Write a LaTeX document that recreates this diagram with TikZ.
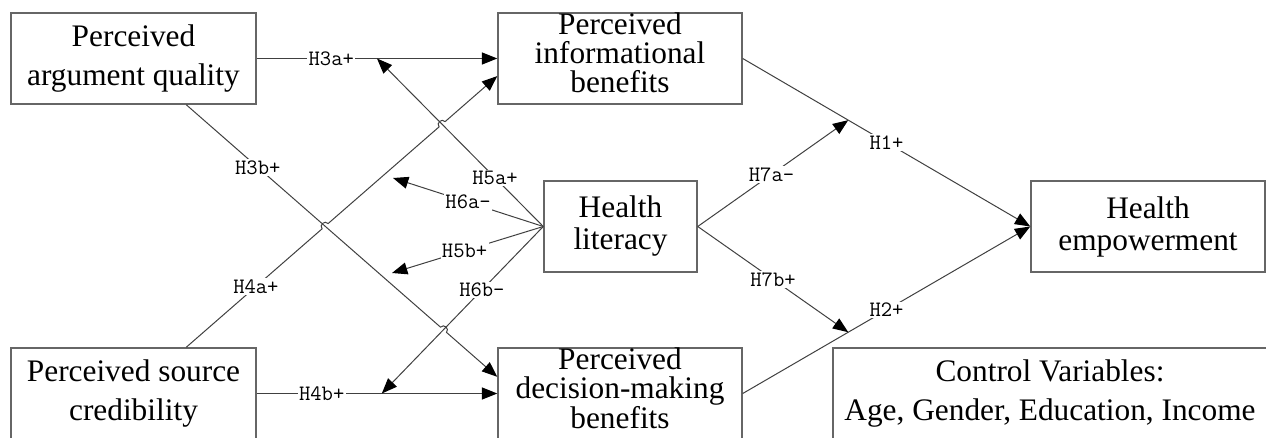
\documentclass[tikz,border=0pt]{standalone}
\usepackage{fontspec}
\setmainfont{Liberation Serif}
\usetikzlibrary{arrows.meta,calc}

\tikzset{
  box/.style={draw=black!60, line width=1.1pt, fill=white, inner sep=0pt,
    minimum height=68.25pt, align=center, font=\fontsize{23.5}{29}\selectfont},
  tightbox/.style={box, font=\fontsize{23.5}{21.5}\selectfont},
  midbox/.style={box, font=\fontsize{23.5}{24}\selectfont},
  link/.style={draw=black!75, line width=0.75pt},
  arr/.style={link, -{Triangle[length=11.5pt,width=9pt,color=black]}},
  hopover/.style={bend left=90, looseness=1.6},
  hyp/.style={fill=white, inner sep=1pt, font=\ttfamily\fontsize{16.5}{17}\selectfont},
}

\begin{document}
\begin{tikzpicture}[x=0.75pt,y=-0.75pt]
  \clip[use as bounding box] (0,0) rectangle (1266,438);

  % constructs
  \node[box, minimum width=183.75pt] (aq) at (133.5,58.5) {Perceived\\argument quality};
  \node[box, minimum width=183.75pt] (sc) at (133.5,393.5) {Perceived source\\credibility};
  \node[tightbox, minimum width=183pt] (ib) at (620,58.5)
    {Perceived\\informational\\benefits\rule[-9pt]{0pt}{9pt}};
  \node[tightbox, minimum width=183pt] (db) at (620,393.5)
    {Perceived\\decision-making\\benefits\rule[-8pt]{0pt}{8pt}};
  \node[midbox, minimum width=114.75pt] (hl) at (620.5,226.5) {Health\\literacy};
  \node[midbox, minimum width=175.5pt] (he) at (1148,226.5) {Health\\empowerment};
  \node[box, minimum width=325.5pt] (cv) at (1050,393.5)
    {Control Variables:\\Age, Gender, Education, Income};

  % end points
  \coordinate (p3b) at ($(aq.south west)!0.714!(aq.south east)$);
  \coordinate (q3b) at ($(db.north west)!0.32!(db.south west)$);
  \coordinate (p4a) at ($(sc.north west)!0.714!(sc.north east)$);
  \coordinate (q4a) at ($(ib.north west)!0.69!(ib.south west)$);
  \coordinate (t5a) at ($(aq.east)!0.5!(ib.west)$);
  \coordinate (t6a) at (393,178);
  \coordinate (t5b) at (392,273);
  \coordinate (t6b) at ($(sc.east)!0.52!(db.west)$);
  \coordinate (t7a) at ($(ib.east)!0.367!(he.west)$);
  \coordinate (t7b) at ($(db.east)!0.367!(he.west)$);
  \coordinate (x1) at (intersection of p4a--q4a and hl.west--t5a);
  \coordinate (x2) at (intersection of p4a--q4a and p3b--q3b);
  \coordinate (x3) at (intersection of p3b--q3b and hl.west--t6b);

  % direct paths
  \draw[arr] (aq.east) -- node[hyp,pos=0.31] {H3a+} (ib.west);
  \draw[arr] (sc.east) -- node[hyp,pos=0.27] {H4b+} (db.west);
  \draw[arr] (p3b) -- ($(x3)!3pt!(p3b)$) to[hopover] ($(x3)!3pt!(q3b)$) -- (q3b);
  \path (p3b) -- node[hyp,pos=0.23] {H3b+} (q3b);
  \draw[arr] (p4a) -- ($(x2)!3pt!(p4a)$) to[hopover] ($(x2)!3pt!(q4a)$)
    -- ($(x1)!3pt!(p4a)$) to[hopover] ($(x1)!3pt!(q4a)$) -- (q4a);
  \path (p4a) -- node[hyp,pos=0.224] {H4a+} (q4a);
  \draw[arr] (ib.east) -- node[hyp,pos=0.5] {H1+} (he.west);
  \draw[arr] (db.east) -- node[hyp,pos=0.5] {H2+} (he.west);

  % moderation by health literacy
  \draw[arr] (hl.west) -- node[hyp,pos=0.29] {H5a+} (t5a);
  \draw[arr] (hl.west) -- node[hyp,pos=0.5] {H6a-} (t6a);
  \draw[arr] (hl.west) -- node[hyp,pos=0.52] {H5b+} (t5b);
  \draw[arr] (hl.west) -- node[hyp,pos=0.38] {H6b-} (t6b);
  \draw[arr] (hl.east) -- node[hyp,pos=0.49] {H7a-} (t7a);
  \draw[arr] (hl.east) -- node[hyp,pos=0.5] {H7b+} (t7b);
\end{tikzpicture}
\end{document}
